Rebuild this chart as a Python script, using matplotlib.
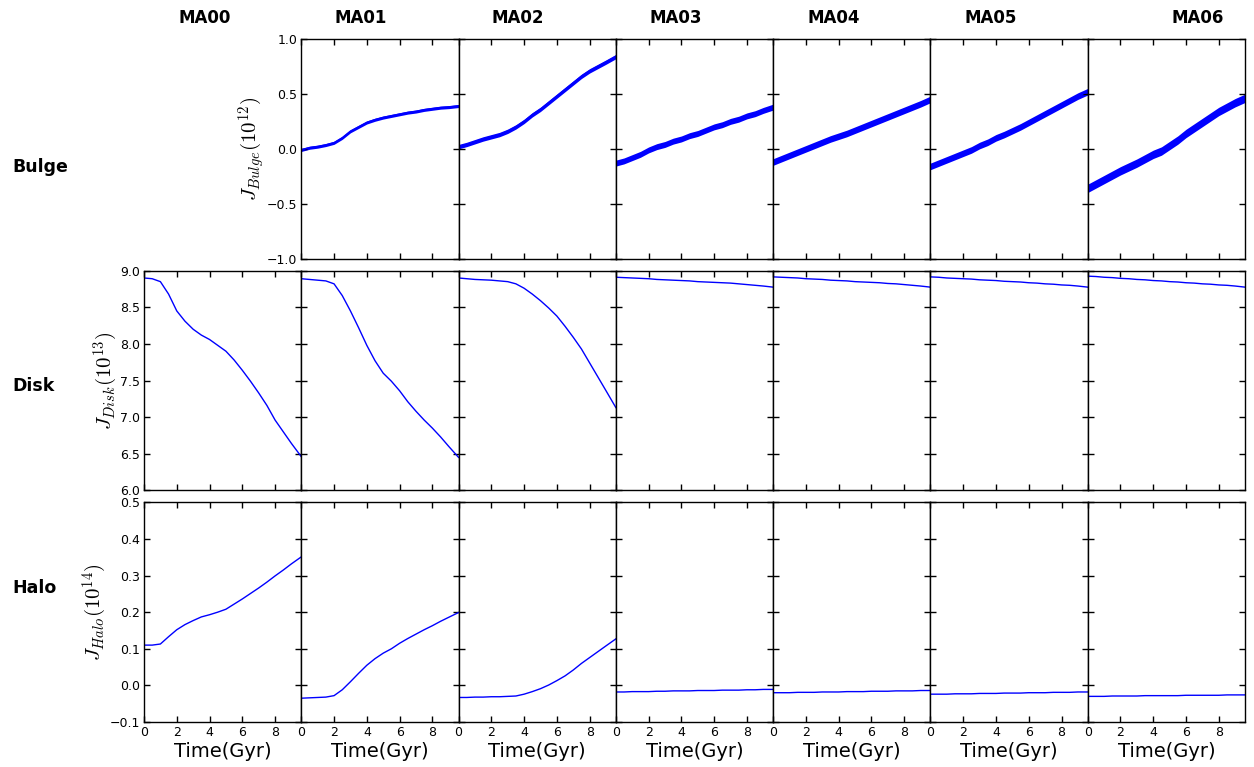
import numpy as np
import matplotlib
matplotlib.use("Agg")
import matplotlib.pyplot as plt

# ---- data -------------------------------------------------------------
models = ["MA00", "MA01", "MA02", "MA03", "MA04", "MA05", "MA06"]
components = ["Bulge", "Disk", "Halo"]

time_gyr = [0.0, 0.5, 1.0, 1.5, 2.0, 2.5, 3.0, 3.5, 4.0, 4.5,
            5.0, 5.5, 6.0, 6.5, 7.0, 7.5, 8.0, 8.5, 9.0, 9.6]

# Bulge angular momentum (1e12); MA00 has no bulge
bulge_ma01 = [-0.01, 0.01, 0.02, 0.035, 0.055, 0.10, 0.16, 0.20, 0.24, 0.265,
              0.285, 0.30, 0.315, 0.33, 0.34, 0.355, 0.365, 0.375, 0.38, 0.39]
bulge_ma02 = [0.02, 0.04, 0.065, 0.09, 0.11, 0.13, 0.16, 0.20, 0.25, 0.31,
              0.36, 0.42, 0.48, 0.54, 0.60, 0.66, 0.71, 0.75, 0.79, 0.84]
bulge_ma03 = [-0.13, -0.11, -0.08, -0.05, -0.01, 0.02, 0.04, 0.07, 0.09, 0.12,
              0.14, 0.17, 0.20, 0.22, 0.25, 0.27, 0.30, 0.32, 0.35, 0.38]
bulge_ma04 = [-0.12, -0.09, -0.06, -0.03, 0.00, 0.03, 0.06, 0.09, 0.115, 0.14,
              0.17, 0.20, 0.23, 0.26, 0.29, 0.32, 0.35, 0.38, 0.41, 0.45]
bulge_ma05 = [-0.16, -0.13, -0.10, -0.07, -0.04, -0.01, 0.03, 0.06, 0.10, 0.13,
              0.165, 0.20, 0.24, 0.28, 0.32, 0.36, 0.40, 0.44, 0.48, 0.52]
bulge_ma06 = [-0.36, -0.32, -0.28, -0.24, -0.20, -0.165, -0.13, -0.09, -0.05, -0.02,
              0.03, 0.08, 0.14, 0.19, 0.24, 0.29, 0.34, 0.38, 0.42, 0.46]
# half-width of the particle-noise scatter around each bulge curve
bulge_scatter = [0.0, 0.014, 0.02, 0.027, 0.03, 0.03, 0.038]

# Disk angular momentum (1e13)
disk_ma00 = [8.90, 8.89, 8.85, 8.68, 8.45, 8.31, 8.20, 8.12, 8.06, 7.98,
             7.90, 7.78, 7.64, 7.49, 7.33, 7.16, 6.96, 6.80, 6.64, 6.46]
disk_ma01 = [8.89, 8.88, 8.87, 8.86, 8.82, 8.66, 8.45, 8.22, 7.98, 7.77,
             7.60, 7.49, 7.36, 7.21, 7.08, 6.96, 6.85, 6.73, 6.60, 6.45]
disk_ma02 = [8.90, 8.89, 8.88, 8.875, 8.87, 8.86, 8.85, 8.82, 8.76, 8.68,
             8.59, 8.49, 8.38, 8.24, 8.09, 7.93, 7.74, 7.55, 7.36, 7.13]
disk_ma03 = [8.91, 8.905, 8.90, 8.895, 8.89, 8.88, 8.875, 8.87, 8.865, 8.86,
             8.85, 8.845, 8.84, 8.835, 8.83, 8.82, 8.81, 8.80, 8.79, 8.775]
disk_ma04 = [8.915, 8.91, 8.905, 8.90, 8.89, 8.885, 8.88, 8.87, 8.865, 8.86,
             8.85, 8.845, 8.84, 8.835, 8.825, 8.82, 8.81, 8.80, 8.79, 8.775]
disk_ma05 = [8.915, 8.91, 8.90, 8.895, 8.89, 8.885, 8.875, 8.87, 8.865, 8.855,
             8.85, 8.845, 8.835, 8.83, 8.82, 8.815, 8.805, 8.80, 8.79, 8.775]
disk_ma06 = [8.925, 8.92, 8.91, 8.905, 8.895, 8.89, 8.88, 8.875, 8.865, 8.86,
             8.85, 8.845, 8.835, 8.83, 8.82, 8.815, 8.805, 8.80, 8.79, 8.775]

# Halo angular momentum (1e14)
halo_ma00 = [0.110, 0.110, 0.113, 0.133, 0.152, 0.166, 0.177, 0.187, 0.193, 0.200,
             0.208, 0.222, 0.236, 0.251, 0.266, 0.282, 0.299, 0.315, 0.332, 0.351]
halo_ma01 = [-0.035, -0.034, -0.033, -0.032, -0.028, -0.012, 0.010, 0.033, 0.055, 0.073,
             0.088, 0.100, 0.115, 0.128, 0.140, 0.152, 0.163, 0.175, 0.186, 0.199]
halo_ma02 = [-0.033, -0.033, -0.032, -0.032, -0.031, -0.031, -0.030, -0.029, -0.024, -0.017,
             -0.009, 0.001, 0.013, 0.026, 0.042, 0.060, 0.076, 0.092, 0.108, 0.127]
halo_ma03 = [-0.018, -0.018, -0.017, -0.017, -0.017, -0.016, -0.016, -0.015, -0.015, -0.015,
             -0.014, -0.014, -0.014, -0.013, -0.013, -0.013, -0.012, -0.012, -0.011, -0.011]
halo_ma04 = [-0.020, -0.020, -0.020, -0.019, -0.019, -0.019, -0.018, -0.018, -0.018, -0.017,
             -0.017, -0.017, -0.016, -0.016, -0.016, -0.015, -0.015, -0.015, -0.014, -0.014]
halo_ma05 = [-0.024, -0.024, -0.024, -0.023, -0.023, -0.023, -0.022, -0.022, -0.022, -0.021,
             -0.021, -0.021, -0.020, -0.020, -0.020, -0.019, -0.019, -0.019, -0.018, -0.018]
halo_ma06 = [-0.030, -0.030, -0.030, -0.029, -0.029, -0.029, -0.029, -0.028, -0.028, -0.028,
             -0.028, -0.028, -0.027, -0.027, -0.027, -0.027, -0.027, -0.026, -0.026, -0.026]

bulge = [None, bulge_ma01, bulge_ma02, bulge_ma03, bulge_ma04, bulge_ma05, bulge_ma06]
disk = [disk_ma00, disk_ma01, disk_ma02, disk_ma03, disk_ma04, disk_ma05, disk_ma06]
halo = [halo_ma00, halo_ma01, halo_ma02, halo_ma03, halo_ma04, halo_ma05, halo_ma06]

row_ylabels = [r"$J_{Bulge}(10^{12})$", r"$J_{Disk}(10^{13})$", r"$J_{Halo}(10^{14})$"]
row_ylims = [(-1.0, 1.0), (6.0, 9.0), (-0.1, 0.5)]
row_yticks = [np.arange(-1.0, 1.01, 0.5), np.arange(6.0, 9.01, 0.5), np.arange(-0.1, 0.51, 0.1)]
xticks = [0, 2, 4, 6, 8]
t_max = 9.6

# ---- figure -----------------------------------------------------------
plt.rcParams["mathtext.fontset"] = "cm"
plt.rcParams["font.family"] = ["DejaVu Sans"]

W, H = 1254, 767
fig, axes = plt.subplots(3, 7, figsize=(W / 100, H / 100), dpi=100, sharey="row")
fig.subplots_adjust(left=144 / W, right=1245 / W, top=1 - 39 / H, bottom=1 - 722 / H,
                    wspace=0.0, hspace=12 / 220)

t = np.array(time_gyr)
rows = [bulge, disk, halo]
for r, series in enumerate(rows):
    for c in range(7):
        ax = axes[r, c]
        y = series[c]
        if y is None:
            ax.set_visible(False)
            continue
        y = np.array(y)
        if r == 0:
            s = bulge_scatter[c]
            ax.fill_between(t, y - s, y + s, color="#0000ff", lw=0)
            ax.plot(t, y, color="#0000ff", lw=1.2)
        else:
            ax.plot(t, y, color="#0000ff", lw=1.0)
        ax.set_xlim(0, t_max)
        ax.set_ylim(*row_ylims[r])
        ax.set_yticks(row_yticks[r])
        ax.set_xticks(xticks)
        ax.tick_params(direction="in", top=True, right=True, length=4, width=1,
                       labelsize=9, pad=3)
        for sp in ax.spines.values():
            sp.set_linewidth(1.0)
        first = 1 if r == 0 else 0
        if c != first:
            ax.tick_params(labelleft=False)
        else:
            ax.tick_params(labelleft=True)
            ax.set_ylabel(row_ylabels[r], fontsize=15, labelpad=0)
        if r < 2:
            ax.tick_params(labelbottom=False)
        else:
            ax.set_xlabel("Time(Gyr)", fontsize=14, labelpad=2)
            ax.set_xticklabels([str(v) for v in xticks])

# column titles and row labels
title_x = [205, 361, 518, 676, 834, 991, 1198]
for name, xp in zip(models, title_x):
    fig.text(xp / W, 1 - 18 / H, name, ha="center", va="center",
             fontsize=12, fontweight="bold")
row_label_y = [167, 386, 588]
for name, yp in zip(components, row_label_y):
    fig.text(12 / W, 1 - yp / H, name, ha="left", va="center",
             fontsize=12.5, fontweight="bold")

fig.savefig("out.png", dpi=100, facecolor="white")
